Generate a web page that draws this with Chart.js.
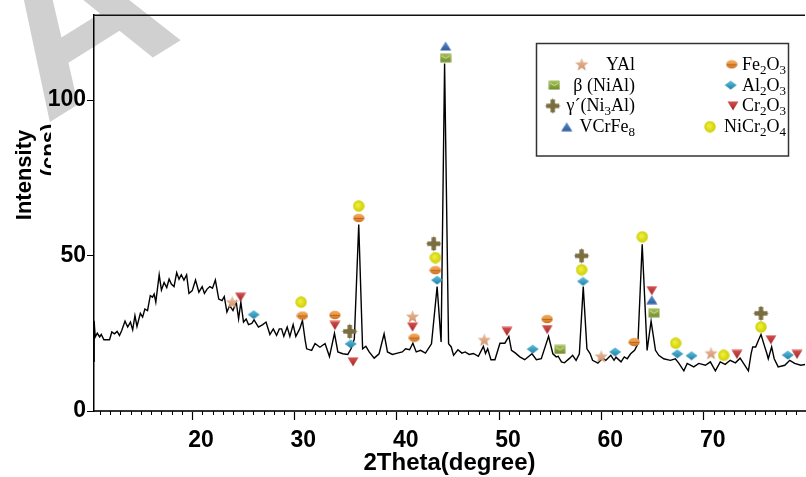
<!DOCTYPE html>
<html>
<head>
<meta charset="utf-8">
<script src="https://cdn.jsdelivr.net/npm/chart.js@4.4.0/dist/chart.umd.min.js"></script>
<style>
  html, body { margin: 0; padding: 0; background: #fff; overflow: hidden; }
  #wrap { width: 812px; height: 477px; }
</style>
</head>
<body>
<div id="wrap"><canvas id="xrd" width="812" height="477"></canvas></div>
<script>
/*** data ***/
const theta = [
  10.42, 10.43, 10.54, 10.74, 10.97, 11.13, 11.39, 11.94, 12.16, 12.42, 12.68, 12.91, 13.13, 13.45, 13.71, 13.98,
  14.2, 14.42, 14.62, 14.95, 15.17, 15.39, 15.65, 15.92, 16.14, 16.3, 16.46, 16.79, 17.01, 17.27, 17.53, 17.76,
  17.98, 18.24, 18.5, 18.73, 18.95, 19.21, 19.47, 19.7, 20.02, 20.34, 20.67, 20.99, 21.21, 21.47, 21.74, 22,
  22.28, 22.61, 22.93, 23.15, 23.41, 23.68, 24, 24.32, 24.55, 24.77, 25.03, 25.29, 25.52, 25.84, 26.06, 26.49,
  26.91, 27.23, 27.61, 27.94, 28.26, 28.53, 28.75, 28.97, 29.3, 29.56, 29.88, 30.14, 30.52, 30.79, 31.05, 31.2,
  31.69, 32.02, 32.5, 33, 33.43, 33.92, 34.25, 34.73, 35.22, 35.54, 35.86, 36.29, 36.67, 36.99, 37.31, 37.8,
  38.28, 38.77, 39.1, 39.58, 40.07, 40.55, 40.87, 41.26, 41.58, 41.91, 42.33, 42.81, 43.4, 43.95, 44.34, 44.68,
  45.07, 45.33, 45.56, 45.98, 46.37, 46.69, 47.08, 47.5, 47.98, 48.47, 48.68, 48.89, 49.21, 49.6, 50.09, 50.57,
  50.96, 51.22, 51.61, 52.03, 52.51, 53.22, 53.65, 54.13, 54.84, 55.26, 55.59, 55.78, 56.1, 56.39, 56.91, 57.19,
  57.53, 57.85, 58.23, 58.59, 58.91, 59.14, 59.66, 60.14, 60.44, 60.92, 61.24, 61.43, 61.92, 62.24, 62.53, 62.86,
  63.25, 63.57, 63.99, 64.47, 64.86, 65.29, 65.61, 66.09, 66.74, 67.23, 67.58, 68.06, 68.39, 69.03, 69.52, 70.17,
  70.65, 71.14, 71.62, 72.1, 72.59, 73.1, 73.56, 74.37, 74.63, 74.79, 75.08, 75.34, 75.6, 75.92, 76.18, 76.31,
  76.64, 76.89, 77.28, 77.92, 78.41, 78.89, 79.48, 80,
];
const counts = [
  16, 29, 23.8, 25, 23.8, 24.6, 22.9, 22.9, 25.4, 24.8, 25.6, 24.3, 25.9, 28.9, 27, 28.6,
  26.1, 30.7, 27.2, 31.4, 30.2, 32.8, 32.3, 37.1, 36.6, 37.6, 35, 43.8, 38.9, 41.3, 39.7, 42.4,
  40.8, 40, 44.5, 42.4, 43.8, 42.1, 43.8, 37.8, 38.7, 42.1, 38.2, 40, 37.8, 39.2, 40, 39.5,
  42.1, 36, 35.5, 36.8, 31.8, 33.9, 32.3, 35, 29.6, 35, 28.6, 29.6, 27.8, 28.2, 29.3, 27,
  27.8, 28.6, 24.6, 26.4, 24.3, 26.4, 26.4, 24, 27, 24, 27.8, 24, 26.4, 29.1, 22.9, 20,
  19.5, 21.7, 20.5, 21.7, 17.5, 25, 19, 18.4, 18.2, 20, 23.2, 60, 20, 20.8, 19, 17,
  18.4, 24.8, 19, 18.2, 18.6, 19, 20, 19.7, 21.8, 19, 19.5, 18.6, 21.6, 40, 22.2, 111.7,
  21.6, 20.6, 17.9, 19.7, 18.6, 19, 18.2, 18.5, 17.6, 20.8, 18.5, 20, 16.5, 16.5, 21.8, 21.8,
  24, 19.5, 18.6, 17.4, 16.5, 18.4, 16.5, 16.8, 24, 18.4, 17.4, 17.6, 15.8, 15.5, 17, 17.9,
  16.3, 18.4, 40, 20, 18.4, 16.3, 15.4, 17, 16.3, 17.9, 16.3, 17.3, 15.8, 17.4, 16.8, 18.4,
  19.5, 21.6, 53.6, 19.5, 28.9, 19.5, 17.9, 16.8, 16.3, 16.8, 15.3, 12.9, 15.3, 14.2, 15.3, 14.7,
  15.8, 12.9, 15.8, 15, 16.3, 15.5, 17, 12.9, 18.4, 20.6, 20.6, 22.7, 24.6, 21.1, 18.4, 16.8,
  20.6, 16.8, 14.2, 14.7, 16.3, 15.3, 14.7, 15,
];

// phase markers
const yalTheta = [23.93, 41.55, 48.56, 59.98, 70.72];
const yalY = [35, 30.4, 22.9, 17.6, 18.6];
const nialTheta = [44.78, 55.94, 65.15];
const nialY = [113.6, 19.8, 31.6];
const ni3alTheta = [35.41, 43.62, 58.07, 75.6];
const ni3alY = [25.6, 53.8, 49.9, 31.4];
const vcrfeTheta = [44.78, 64.93];
const vcrfeY = [117.4, 35.8];
const fe2o3Theta = [30.79, 33.96, 36.29, 41.72, 43.78, 54.71, 63.21];
const fe2o3Y = [30.7, 30.9, 62.1, 23.6, 45.3, 29.6, 22.2];
const al2o3Theta = [26.03, 35.51, 43.95, 53.29, 58.21, 61.34, 67.42, 68.81, 78.22];
const al2o3Y = [31, 21.6, 42.1, 19.9, 41.7, 19, 18.4, 17.8, 18];
const cr2o3Theta = [24.74, 33.96, 35.73, 41.55, 50.77, 54.71, 64.93, 73.25, 76.57, 79.12];
const cr2o3Y = [36.6, 27.5, 15.8, 27, 25.6, 26.2, 38.7, 18.2, 22.9, 18.2];
const nicrTheta = [30.66, 36.29, 43.78, 58.07, 64.0, 67.26, 71.96, 75.6];
const nicrY = [35, 65.9, 49.3, 45.4, 56, 21.8, 17.9, 27];

const phaseLabels = ['YAl', 'β (NiAl)', 'γ´(Ni₃Al)', 'VCrFe₈', 'Fe₂O₃', 'Al₂O₃', 'Cr₂O₃', 'NiCr₂O₄'];
const xTicks = [20, 30, 40, 50, 60, 70];
const yTicks = [0, 50, 100];

/*** marker icons ***/
function makeIcon(w, h, draw) {
  const c = document.createElement('canvas');
  c.width = w;
  c.height = h;
  draw(c.getContext('2d'), w, h);
  return c;
}
function grad(ctx, h, top, bottom) {
  const g = ctx.createLinearGradient(0, 0, 0, h);
  g.addColorStop(0, top);
  g.addColorStop(1, bottom);
  return g;
}

const icons = {
  star: makeIcon(15, 15, (ctx) => {
    ctx.beginPath();
    for (let i = 0; i < 10; i++) {
      const r = i % 2 ? 3 : 7;
      const a = -Math.PI / 2 + (i * Math.PI) / 5;
      ctx.lineTo(7.5 + r * Math.cos(a), 8 + r * Math.sin(a));
    }
    ctx.closePath();
    ctx.fillStyle = grad(ctx, 15, '#f2c6a6', '#c98b66');
    ctx.fill();
  }),
  square: makeIcon(12, 10, (ctx) => {
    ctx.fillStyle = grad(ctx, 10, '#a9c45e', '#6d8a2a');
    ctx.fillRect(0.5, 0.5, 11, 9);
    ctx.strokeStyle = '#d4e3a0';
    ctx.lineWidth = 1;
    ctx.beginPath();
    ctx.moveTo(2, 3);
    ctx.lineTo(6, 5.5);
    ctx.lineTo(10, 3);
    ctx.stroke();
  }),
  plus: makeIcon(17, 17, (ctx) => {
    ctx.fillStyle = '#7a6d3f';
    ctx.beginPath();
    ctx.moveTo(8.5, 0.5);
    ctx.lineTo(10.5, 6.5);
    ctx.lineTo(16.5, 8.5);
    ctx.lineTo(10.5, 10.5);
    ctx.lineTo(8.5, 16.5);
    ctx.lineTo(6.5, 10.5);
    ctx.lineTo(0.5, 8.5);
    ctx.lineTo(6.5, 6.5);
    ctx.closePath();
    ctx.fill();
    ctx.fillRect(6.3, 2, 4.4, 13);
    ctx.fillRect(2, 6.3, 13, 4.4);
  }),
  triUp: makeIcon(12, 10, (ctx) => {
    ctx.beginPath();
    ctx.moveTo(6, 0.5);
    ctx.lineTo(11.5, 9.5);
    ctx.lineTo(0.5, 9.5);
    ctx.closePath();
    ctx.fillStyle = grad(ctx, 10, '#5f93d3', '#2a5796');
    ctx.fill();
  }),
  oval: makeIcon(12, 10, (ctx) => {
    ctx.beginPath();
    ctx.ellipse(6, 5, 5.7, 4.3, 0, 0, Math.PI * 2);
    ctx.fillStyle = grad(ctx, 10, '#f9b868', '#cf6a18');
    ctx.fill();
    ctx.strokeStyle = 'rgba(150,70,10,0.5)';
    ctx.beginPath();
    ctx.moveTo(1, 5.5);
    ctx.lineTo(11, 5.5);
    ctx.stroke();
  }),
  diamond: makeIcon(13, 10, (ctx) => {
    ctx.beginPath();
    ctx.moveTo(6.5, 0.5);
    ctx.lineTo(12.5, 5);
    ctx.lineTo(6.5, 9.5);
    ctx.lineTo(0.5, 5);
    ctx.closePath();
    ctx.fillStyle = grad(ctx, 10, '#62c4e2', '#1c7aa0');
    ctx.fill();
  }),
  triDown: makeIcon(12, 10, (ctx) => {
    ctx.beginPath();
    ctx.moveTo(0.5, 0.5);
    ctx.lineTo(11.5, 0.5);
    ctx.lineTo(6, 9.5);
    ctx.closePath();
    ctx.fillStyle = grad(ctx, 10, '#d9524f', '#9c2327');
    ctx.fill();
  }),
  circle: makeIcon(12, 12, (ctx) => {
    const g = ctx.createRadialGradient(5, 5, 1, 6, 6, 6);
    g.addColorStop(0, '#eded3a');
    g.addColorStop(1, '#cccc00');
    ctx.beginPath();
    ctx.arc(6, 6, 5.7, 0, Math.PI * 2);
    ctx.fillStyle = g;
    ctx.fill();
  }),
};

function points(xs, ys) {
  return xs.map((x, i) => ({ x: x, y: ys[i] }));
}
function phase(label, xs, ys, icon) {
  return {
    label: label,
    data: points(xs, ys),
    pointStyle: icon,
    pointRadius: 6,
    showLine: false,
    order: 0,
  };
}

const datasets = [
  {
    label: 'XRD',
    data: points(theta, counts),
    showLine: true,
    borderColor: '#000',
    borderWidth: 1.4,
    pointRadius: 0,
    tension: 0,
    order: 1,
  },
  phase(phaseLabels[0], yalTheta, yalY, icons.star),
  phase(phaseLabels[1], nialTheta, nialY, icons.square),
  phase(phaseLabels[2], ni3alTheta, ni3alY, icons.plus),
  phase(phaseLabels[3], vcrfeTheta, vcrfeY, icons.triUp),
  phase(phaseLabels[4], fe2o3Theta, fe2o3Y, icons.oval),
  phase(phaseLabels[5], al2o3Theta, al2o3Y, icons.diamond),
  phase(phaseLabels[6], cr2o3Theta, cr2o3Y, icons.triDown),
  phase(phaseLabels[7], nicrTheta, nicrY, icons.circle),
];

/*** plugins ***/
const SUBS = '₀₁₂₃₄₅₆₇₈₉';

// draws text with subscript digits, right aligned on x
function drawChem(ctx, text, right, baseline) {
  const big = '18px "Liberation Serif", "Times New Roman", serif';
  const small = '13px "Liberation Serif", "Times New Roman", serif';
  const runs = [];
  for (const ch of text) {
    const sub = SUBS.indexOf(ch) >= 0;
    const c = sub ? String(SUBS.indexOf(ch)) : ch;
    if (runs.length && runs[runs.length - 1].sub === sub) runs[runs.length - 1].t += c;
    else runs.push({ t: c, sub: sub });
  }
  let total = 0;
  runs.forEach((r) => {
    ctx.font = r.sub ? small : big;
    r.w = ctx.measureText(r.t).width;
    total += r.w;
  });
  let x = right - total;
  ctx.textAlign = 'left';
  ctx.textBaseline = 'alphabetic';
  runs.forEach((r) => {
    ctx.font = r.sub ? small : big;
    ctx.fillText(r.t, x, r.sub ? baseline + 4 : baseline);
    x += r.w;
  });
}

const framePlugin = {
  id: 'frame',
  beforeDraw(chart) {
    const ctx = chart.ctx;
    ctx.save();
    ctx.fillStyle = '#fff';
    ctx.fillRect(0, 0, chart.width, chart.height);
    // watermark letter
    ctx.fillStyle = '#d0d0d0';
    ctx.font = 'bold 230px "Liberation Sans", Arial, sans-serif';
    ctx.textAlign = 'left';
    ctx.textBaseline = 'alphabetic';
    ctx.translate(45, 125);
    ctx.rotate((-32 * Math.PI) / 180);
    ctx.fillText('A', 0, 0);
    ctx.restore();
  },
  afterDraw(chart) {
    const ctx = chart.ctx;
    const area = chart.chartArea;
    const xs = chart.scales.x;
    ctx.save();
    // top edge of the frame
    ctx.strokeStyle = '#111';
    ctx.lineWidth = 1.5;
    ctx.beginPath();
    ctx.moveTo(area.left, area.top + 0.5);
    ctx.lineTo(area.right, area.top + 0.5);
    ctx.stroke();
    // minor ticks every degree
    ctx.lineWidth = 1;
    ctx.strokeStyle = '#000';
    for (let v = Math.ceil(xs.min); v <= xs.max; v++) {
      if (v % 10 === 0) continue;
      const px = Math.round(xs.getPixelForValue(v)) + 0.5;
      ctx.beginPath();
      ctx.moveTo(px, area.bottom);
      ctx.lineTo(px, area.bottom + 4);
      ctx.stroke();
    }
    // y title, second line cut by the tick area
    ctx.fillStyle = '#000';
    ctx.font = 'bold 22px "Liberation Sans", Arial, sans-serif';
    ctx.textAlign = 'center';
    ctx.textBaseline = 'alphabetic';
    ctx.save();
    ctx.translate(31, 175);
    ctx.rotate(-Math.PI / 2);
    ctx.fillText('Intensity', 0, 0);
    ctx.restore();
    ctx.save();
    ctx.beginPath();
    ctx.rect(0, 0, 51, chart.height);
    ctx.clip();
    ctx.translate(56, 150);
    ctx.rotate(-Math.PI / 2);
    ctx.fillText('(cps)', 0, 0);
    ctx.restore();
    ctx.restore();
  },
};

const legendPlugin = {
  id: 'phaseLegend',
  afterDraw(chart) {
    const ctx = chart.ctx;
    const items = chart.data.datasets.slice(1);
    const markerX = [581.7, 554.3, 552.7, 566.7, 731.7, 730.7, 733, 710];
    ctx.save();
    ctx.fillStyle = '#fff';
    ctx.fillRect(536, 43, 253, 113);
    ctx.strokeStyle = '#333';
    ctx.lineWidth = 1.5;
    ctx.strokeRect(536.5, 43.5, 252, 112.5);
    items.forEach((ds, i) => {
      const col = i < 4 ? 0 : 1;
      const row = i % 4;
      const cy = 64.3 + row * 20.8;
      const icon = ds.pointStyle;
      ctx.drawImage(icon, markerX[i] - icon.width / 2, cy - icon.height / 2);
      ctx.fillStyle = '#000';
      drawChem(ctx, ds.label, col ? 786 : 635, cy + 5.5);
    });
    ctx.restore();
  },
};

/*** chart ***/
const boldFont = { family: '"Liberation Sans", Arial, sans-serif', size: 23, weight: 'bold' };

new Chart(document.getElementById('xrd'), {
  type: 'scatter',
  data: { datasets: datasets },
  options: {
    responsive: false,
    animation: false,
    layout: { padding: { top: 12, right: 0, bottom: 0, left: 0 } },
    plugins: {
      legend: { display: false },
      tooltip: { enabled: false },
    },
    scales: {
      x: {
        type: 'linear',
        min: 10.42,
        max: 79.9,
        afterFit: (s) => {
          s.height = 66;
        },
        afterBuildTicks: (s) => {
          s.ticks = xTicks.map((v) => ({ value: v }));
        },
        border: { display: true, color: '#333', width: 2 },
        grid: {
          display: true,
          drawOnChartArea: false,
          drawTicks: true,
          tickLength: 9,
          tickColor: '#000',
          tickWidth: 1.2,
        },
        ticks: {
          labelOffset: 9,
          padding: 7,
          color: '#000',
          font: boldFont,
          maxRotation: 0,
          autoSkip: false,
        },
        title: {
          display: true,
          text: '2Theta(degree)',
          color: '#000',
          font: { family: '"Liberation Sans", Arial, sans-serif', size: 24, weight: 'bold' },
          padding: { top: 0, bottom: -1 },
        },
      },
      y: {
        min: 0,
        max: 127.4,
        afterFit: (s) => {
          s.width = 94;
        },
        afterBuildTicks: (s) => {
          s.ticks = yTicks.map((v) => ({ value: v }));
        },
        border: { display: true, color: '#000', width: 1.5 },
        grid: {
          display: true,
          drawOnChartArea: false,
          tickLength: 7,
          tickColor: '#000',
        },
        ticks: {
          padding: 1,
          color: '#000',
          font: boldFont,
        },
      },
    },
  },
  plugins: [framePlugin, legendPlugin],
});
</script>
</body>
</html>
